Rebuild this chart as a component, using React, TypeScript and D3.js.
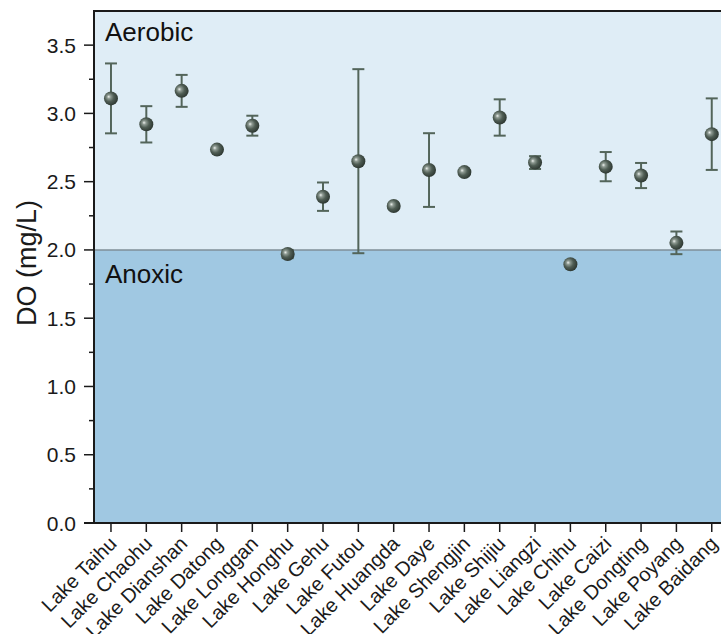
import React from "react";
import * as d3 from "d3";

const lakes = [
  "Lake Taihu", "Lake Chaohu", "Lake Dianshan", "Lake Datong", "Lake Longgan",
  "Lake Honghu", "Lake Gehu", "Lake Futou", "Lake Huangda", "Lake Daye",
  "Lake Shengjin", "Lake Shijiu", "Lake Liangzi", "Lake Chihu", "Lake Caizi",
  "Lake Dongting", "Lake Poyang", "Lake Baidang",
];
const doMean = [3.11, 2.92, 3.165, 2.735, 2.91, 1.97, 2.39, 2.65, 2.322, 2.585, 2.57, 2.97, 2.64, 1.895, 2.61, 2.545, 2.052, 2.848];
const doErr = [0.256, 0.133, 0.117, 0.015, 0.073, 0.03, 0.104, 0.674, 0.015, 0.27, 0.015, 0.133, 0.047, 0.015, 0.107, 0.092, 0.083, 0.262];
const yTicks = [0, 0.5, 1.0, 1.5, 2.0, 2.5, 3.0, 3.5];
const yMinor = [0.25, 0.75, 1.25, 1.75, 2.25, 2.75, 3.25];
const threshold = 2.0;
const zoneLabels = ["Aerobic", "Anoxic"];

const W = 721, H = 634;
const left = 94, top = 11, bottom = 523;
const step = 35.34;
const FONT = "'Liberation Sans', Arial, sans-serif";

export default function App() {
  const x = d3.scaleBand().domain(lakes).range([left - 0.7, left - 0.7 + step * lakes.length]).padding(0);
  const y = d3.scaleLinear().domain([0, 3.75]).range([bottom, top]);
  const cx = (c: string) => (x(c) as number) + x.bandwidth() / 2;
  const right = W + 5;

  return (
    <svg width={W} height={H} style={{ position: "absolute", left: 0, top: 0 }} fontFamily={FONT}>
      <defs>
        <radialGradient id="sph" cx="0.42" cy="0.42" r="0.6" fx="0.33" fy="0.38">
          <stop offset="0" stopColor="#eef1ee" />
          <stop offset="0.22" stopColor="#8e9a92" />
          <stop offset="0.55" stopColor="#4f5d54" />
          <stop offset="1" stopColor="#2c3630" />
        </radialGradient>
      </defs>
      <rect x={left} y={top} width={right - left} height={y(threshold) - top} fill="#dfedf6" />
      <rect x={left} y={y(threshold)} width={right - left} height={bottom - y(threshold)} fill="#a0c8e2" />
      <line x1={left} x2={right} y1={y(threshold)} y2={y(threshold)} stroke="#7f8f99" strokeWidth={1.5} />
      <text x={left + 11} y={top + 30} fontSize={26} fill="#111">{zoneLabels[0]}</text>
      <text x={left + 11} y={y(threshold) + 33} fontSize={26} fill="#111">{zoneLabels[1]}</text>

      {lakes.map((c, i) => {
        const m = doMean[i], e = doErr[i];
        const px = cx(c);
        return (
          <g key={c}>
            <line x1={px} x2={px} y1={y(m + e)} y2={y(m - e)} stroke="#53655a" strokeWidth={2} />
            <line x1={px - 6} x2={px + 6} y1={y(m + e)} y2={y(m + e)} stroke="#53655a" strokeWidth={2} />
            <line x1={px - 6} x2={px + 6} y1={y(m - e)} y2={y(m - e)} stroke="#53655a" strokeWidth={2} />
            <circle cx={px} cy={y(m)} r={7} fill="url(#sph)" />
          </g>
        );
      })}

      {/* frame */}
      <line x1={left} x2={right} y1={top} y2={top} stroke="#1a1a1a" strokeWidth={2} />
      <line x1={left} x2={left} y1={top - 1} y2={bottom + 1} stroke="#1a1a1a" strokeWidth={2} />
      <line x1={left - 10} x2={right} y1={bottom} y2={bottom} stroke="#1a1a1a" strokeWidth={2} />

      {yTicks.map((t) => (
        <g key={t}>
          <line x1={left - 10} x2={left} y1={y(t)} y2={y(t)} stroke="#1a1a1a" strokeWidth={1.5} />
          <text x={left - 18} y={y(t)} dy="0.36em" textAnchor="end" fontSize={21} fill="#1a1a1a">{t.toFixed(1)}</text>
        </g>
      ))}
      {yMinor.map((t) => (
        <line key={t} x1={left - 5} x2={left} y1={y(t)} y2={y(t)} stroke="#1a1a1a" strokeWidth={1.5} />
      ))}
      <text transform={`translate(${36},${263}) rotate(-90)`} textAnchor="middle" fontSize={27} fill="#1a1a1a">DO (mg/L)</text>

      {lakes.map((c) => (
        <g key={c}>
          <line x1={cx(c)} x2={cx(c)} y1={bottom} y2={bottom + 9} stroke="#1a1a1a" strokeWidth={1.5} />
          <text transform={`translate(${cx(c) + 7},${bottom + 22}) rotate(-45)`} textAnchor="end" fontSize={20} fill="#1a1a1a">{c}</text>
        </g>
      ))}
    </svg>
  );
}
